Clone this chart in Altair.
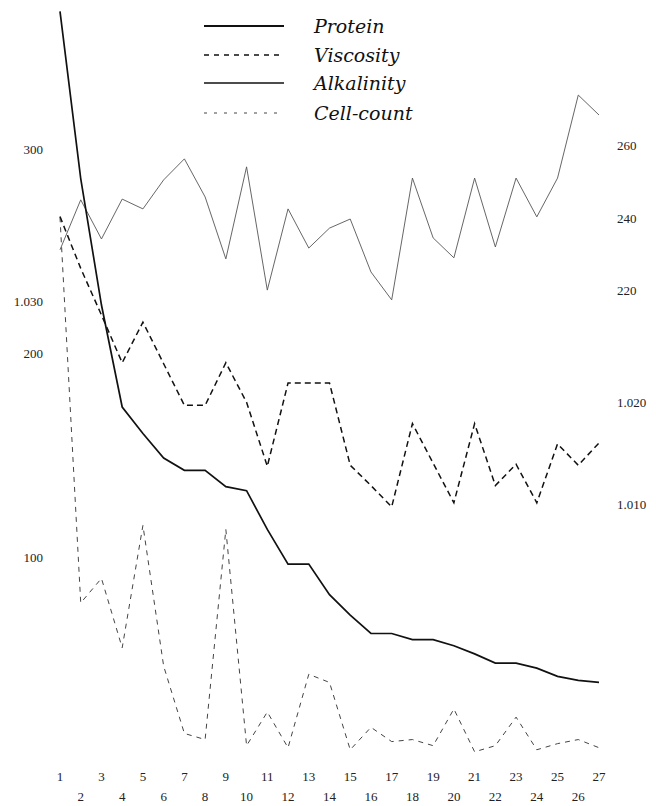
import altair as alt
import pandas as pd

# ---------------- data ----------------
days = list(range(1, 28))
protein = [368, 286, 224, 174, 161, 149, 143, 143, 135, 133,
           114, 97, 97, 82, 72, 63, 63, 60, 60, 57,
           53, 48.5, 48.5, 46, 42, 40, 39]
viscosity = [1.0384, 1.0333, 1.0287, 1.0240, 1.0280, 1.0239, 1.0198, 1.0198, 1.0240, 1.0201,
             1.0138, 1.0220, 1.0220, 1.0220, 1.0139, 1.0119, 1.0098, 1.0180, 1.0141, 1.0102,
             1.0180, 1.0119, 1.0140, 1.0102, 1.0160, 1.0139, 1.0161]
alkalinity = [231.4, 245.2, 234.4, 245.4, 242.7, 250.7, 256.5, 246.0, 228.9, 254.3,
              220.3, 242.7, 231.9, 237.4, 239.9, 225.3, 217.6, 251.2, 234.7, 229.2,
              251.2, 232.2, 251.2, 240.5, 251.2, 274.1, 268.6]
cell_count = [267, 78, 90, 56, 116, 47, 14, 11, 114, 8,
              24.5, 7, 43, 39, 6, 17, 10, 11, 8, 26,
              5, 8, 22, 6, 9, 11, 7]

series_names = ["Protein", "Viscosity", "Alkalinity", "Cell-count"]
left_ticks = [300, 200, 100]          # protein / cell-count scale
visc_left_ticks = [1.030]
visc_right_ticks = [1.020, 1.010]
alk_ticks = [260, 240, 220]
odd_days = [d for d in days if d % 2 == 1]
even_days = [d for d in days if d % 2 == 0]

# ---------------- scales ----------------
W, H = 560, 752
xs = alt.Scale(domain=[0.4212, 27.4341], nice=False, zero=False)
left_s = alt.Scale(domain=[0.98, 369.61], nice=False, zero=False)
alk_s = alt.Scale(domain=[90.67, 298.12], nice=False, zero=False)
visc_s = alt.Scale(domain=[0.98486, 1.058949], nice=False, zero=False)

NUM_FONT = "Liberation Serif"
LEG_FONT = "DejaVu Serif"


def line(values, scale, color, width, dash=None):
    df = pd.DataFrame({"day": days, "value": values})
    kw = dict(color=color, strokeWidth=width, strokeJoin="miter")
    if dash:
        kw["strokeDash"] = dash
    return alt.Chart(df).mark_line(**kw).encode(
        x=alt.X("day:Q", scale=xs, axis=None),
        y=alt.Y("value:Q", scale=scale, axis=None),
    )


def ylabels(ticks, scale, xpix, align, fmt):
    df = pd.DataFrame({"v": ticks})
    return alt.Chart(df).mark_text(
        align=align, baseline="middle", font=NUM_FONT, fontSize=13, color="#222"
    ).encode(
        x=alt.value(xpix),
        y=alt.Y("v:Q", scale=scale, axis=None),
        text=alt.Text("v:Q", format=fmt),
    )


def xlabels(ds, ypix):
    df = pd.DataFrame({"d": ds})
    return alt.Chart(df).mark_text(
        align="center", baseline="middle", font=NUM_FONT, fontSize=13, color="#222"
    ).encode(
        x=alt.X("d:Q", scale=xs, axis=None),
        y=alt.value(ypix),
        text=alt.Text("d:Q", format="d"),
    )


styles = {
    "Protein": dict(color="#111111", width=1.7, dash=None),
    "Viscosity": dict(color="#111111", width=1.5, dash=[6, 4]),
    "Alkalinity": dict(color="#555555", width=0.9, dash=None),
    "Cell-count": dict(color="#444444", width=1.0, dash=[5, 5]),
}

layers = [
    line(alkalinity, alk_s, **styles["Alkalinity"]),
    line(cell_count, left_s, **styles["Cell-count"]),
    line(viscosity, visc_s, **styles["Viscosity"]),
    line(protein, left_s, **styles["Protein"]),
    ylabels(left_ticks, left_s, -5, "right", "d"),
    ylabels(visc_left_ticks, visc_s, -5, "right", ".3f"),
    ylabels(alk_ticks, alk_s, 569, "left", "d"),
    ylabels(visc_right_ticks, visc_s, 569, "left", ".3f"),
    xlabels(odd_days, 769),
    xlabels(even_days, 789),
]

# legend (manual)
leg_y = [18, 47, 75, 105]
leg_styles = {
    "Protein": dict(color="#111111", strokeWidth=1.8),
    "Viscosity": dict(color="#111111", strokeWidth=1.3, strokeDash=[5, 5]),
    "Alkalinity": dict(color="#111111", strokeWidth=1.6),
    "Cell-count": dict(color="#444444", strokeWidth=1.0, strokeDash=[3, 7]),
}
for name, yy in zip(series_names, leg_y):
    ldf = pd.DataFrame({"series": [name]})
    layers.append(
        alt.Chart(ldf).mark_rule(**leg_styles[name]).encode(
            x=alt.value(156), x2=alt.value(236), y=alt.value(yy)
        )
    )
    layers.append(
        alt.Chart(ldf).mark_text(
            align="left", baseline="middle", font=LEG_FONT, fontStyle="italic",
            fontSize=19, color="#111"
        ).encode(x=alt.value(266), y=alt.value(yy + 1), text="series:N")
    )

chart = alt.layer(*layers).resolve_scale(y="independent").properties(
    width=W,
    height=H,
    autosize=alt.AutoSizeParams(type="none"),
    padding={"left": 40, "right": 40, "top": 0, "bottom": 46},
    background="white",
).configure_view(stroke=None)

chart.save("out.html", embed_options={"renderer": "svg", "actions": False})
